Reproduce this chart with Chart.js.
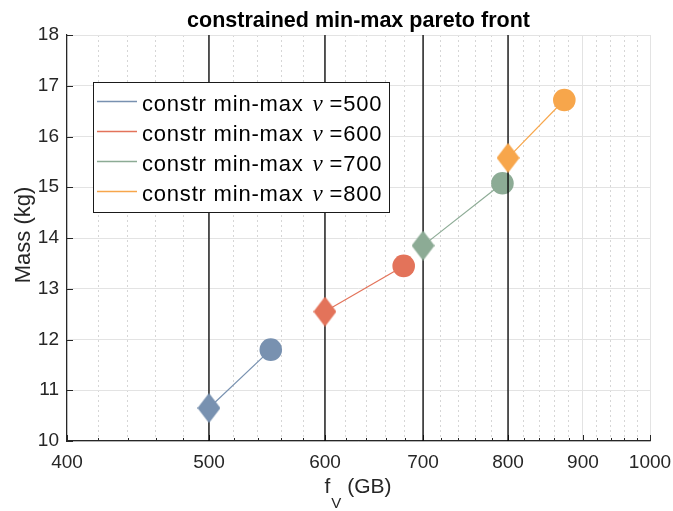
<!DOCTYPE html>
<html>
<head>
<meta charset="utf-8">
<title>constrained min-max pareto front</title>
<script src="https://cdn.jsdelivr.net/npm/chart.js@4/dist/chart.umd.min.js"></script>
<style>
  html, body { margin: 0; padding: 0; background: #ffffff; }
  #wrap { width: 673px; height: 511px; }
</style>
</head>
<body>
<div id="wrap"><canvas id="chart" width="673" height="511"></canvas></div>
<script>
// Constraint levels (nu) and the resulting pareto points for each run
const nuValues = [500, 600, 700, 800];
const seriesPrefix = 'constr min-max';
const seriesColors = ['#7891b0', '#e3735a', '#8cab95', '#f7a64b'];
// diamond marker: constrained optimum (on the nu line)
const diamondFV = [500, 600, 700, 800];
const diamondMass = [10.65, 12.55, 13.85, 15.58];
// circle marker: min-max optimum
const circleFV = [551, 679, 793, 874];
const circleMass = [11.80, 13.45, 15.08, 16.72];
// axes
const xMajorTicks = [400, 500, 600, 700, 800, 900, 1000];
const xMinorStep = 20;
const yRange = [10, 18];

const FONT = "'Liberation Sans', Arial, Helvetica, sans-serif";
const TEXT = '#262626';

function diamondImage(color, w, h) {
  const c = document.createElement('canvas');
  c.width = w; c.height = h;
  const g = c.getContext('2d');
  g.fillStyle = color;
  g.beginPath();
  g.moveTo(w / 2, 0);
  g.lineTo(w, h / 2);
  g.lineTo(w / 2, h);
  g.lineTo(0, h / 2);
  g.closePath();
  g.fill();
  return c;
}

// drawing order: nu line k, then series k, so each series sits over its own line
const datasets = [];
nuValues.forEach((nu, k) => {
  datasets.push({
    label: 'nu ' + nu,
    data: [{ x: nu, y: yRange[0] }, { x: nu, y: yRange[1] }],
    borderColor: '#000000',
    borderWidth: 1.3,
    pointRadius: 0,
    order: 100 - 2 * k
  });
  datasets.push({
    label: seriesPrefix + ' \u03bd =' + nu,
    data: [{ x: diamondFV[k], y: diamondMass[k] }, { x: circleFV[k], y: circleMass[k] }],
    borderColor: seriesColors[k],
    backgroundColor: seriesColors[k],
    borderWidth: 1.2,
    pointStyle: [diamondImage(seriesColors[k], 23, 30), 'circle'],
    pointRadius: [12, 11.3],
    pointBorderWidth: 0,
    order: 99 - 2 * k
  });
});

const isMajorX = v => xMajorTicks.includes(v);

function setSpacing(ctx, s) {
  if ('letterSpacing' in ctx) ctx.letterSpacing = s;
}

const overlay = {
  id: 'overlay',
  beforeDatasetsDraw(chart) {
    const { ctx, chartArea: a, scales: { x, y } } = chart;
    ctx.save();
    ctx.strokeStyle = TEXT;
    ctx.lineWidth = 1;
    // inward tick marks
    x.ticks.forEach(t => {
      const px = Math.round(x.getPixelForValue(t.value)) + 0.5;
      const len = isMajorX(t.value) ? 6 : 3;
      ctx.beginPath();
      ctx.moveTo(px, a.bottom);
      ctx.lineTo(px, a.bottom - len);
      ctx.stroke();
    });
    y.ticks.forEach(t => {
      const py = Math.round(y.getPixelForValue(t.value)) + 0.5;
      ctx.beginPath();
      ctx.moveTo(a.left, py);
      ctx.lineTo(a.left + 6, py);
      ctx.stroke();
    });
    ctx.restore();
  },
  afterDraw(chart) {
    const { ctx, chartArea: a } = chart;
    ctx.save();
    const cx = (a.left + a.right) / 2;

    // title
    ctx.fillStyle = '#000000';
    ctx.font = 'bold 21.5px ' + FONT;
    ctx.textAlign = 'center';
    ctx.textBaseline = 'alphabetic';
    ctx.fillText('constrained min-max pareto front', cx, 27);

    // x-axis title with subscript
    ctx.fillStyle = TEXT;
    ctx.textAlign = 'left';
    const mainF = '21px ' + FONT, subF = '15px ' + FONT;
    ctx.font = mainF; const wf = ctx.measureText('f').width;
    ctx.font = subF; const wv = ctx.measureText('V').width;
    ctx.font = mainF; const wr = ctx.measureText(' (GB)').width;
    let xs = cx - (wf + wv + wr) / 2 - 1;
    const base = 493;
    ctx.font = mainF; ctx.fillText('f', xs, base); xs += wf + 1;
    ctx.font = subF; ctx.fillText('V', xs, base + 15); xs += wv;
    ctx.font = mainF; ctx.fillText(' (GB)', xs, base);

    // y-axis title
    ctx.save();
    ctx.translate(24, (a.top + a.bottom) / 2 - 3);
    ctx.rotate(-Math.PI / 2);
    ctx.textAlign = 'center';
    ctx.textBaseline = 'middle';
    ctx.font = '22px ' + FONT;
    ctx.fillText('Mass (kg)', 0, 0);
    ctx.restore();

    // legend
    const bx = 93.5, by = 82.5, bw = 296, bh = 130;
    ctx.fillStyle = '#ffffff';
    ctx.fillRect(bx, by, bw, bh);
    ctx.strokeStyle = '#1a1a1a';
    ctx.lineWidth = 1;
    ctx.strokeRect(bx, by, bw, bh);
    const rows = [104, 134, 164, 194];
    nuValues.forEach((nu, k) => {
      const ry = rows[k];
      ctx.strokeStyle = seriesColors[k];
      ctx.lineWidth = 1.3;
      ctx.beginPath();
      ctx.moveTo(97, ry - 2.5);
      ctx.lineTo(137, ry - 2.5);
      ctx.stroke();
      ctx.fillStyle = '#000000';
      ctx.textAlign = 'left';
      ctx.textBaseline = 'alphabetic';
      let tx = 142;
      const tb = ry + 7;
      ctx.font = '22px ' + FONT;
      setSpacing(ctx, '0.8px');
      const p1 = seriesPrefix + ' ';
      ctx.fillText(p1, tx, tb); tx += ctx.measureText(p1).width + 2;
      setSpacing(ctx, '0px');
      ctx.font = 'italic 23px "Liberation Serif", "Times New Roman", serif';
      ctx.fillText('\u03bd', tx, tb); tx += ctx.measureText('\u03bd').width;
      ctx.font = '22px ' + FONT;
      setSpacing(ctx, '0.8px');
      ctx.fillText(' =' + nu, tx, tb);
      setSpacing(ctx, '0px');
    });
    ctx.restore();
  }
};

new Chart(document.getElementById('chart'), {
  type: 'line',
  data: { datasets },
  options: {
    responsive: false,
    devicePixelRatio: 1,
    animation: false,
    events: [],
    layout: { padding: { top: 35, right: 23, left: 0, bottom: 0 } },
    plugins: { legend: { display: false }, title: { display: false }, tooltip: { enabled: false } },
    scales: {
      x: {
        type: 'logarithmic',
        min: 400,
        max: 1000,
        afterBuildTicks: scale => {
          const ticks = [];
          for (let v = xMajorTicks[0]; v <= xMajorTicks[xMajorTicks.length - 1]; v += xMinorStep) {
            ticks.push({ value: v, major: isMajorX(v) });
          }
          scale.ticks = ticks;
        },
        afterFit: scale => {
          scale.height = 70;
          scale.paddingLeft = 0;
          scale.paddingRight = 0;
        },
        ticks: {
          autoSkip: false,
          maxRotation: 0,
          minRotation: 0,
          padding: 10,
          color: TEXT,
          font: { family: FONT, size: 19 },
          callback: v => (isMajorX(v) ? String(v) : '')
        },
        grid: {
          drawTicks: false,
          lineWidth: 1,
          color: c => (c.tick && !isMajorX(c.tick.value) ? '#d6d6d6' : '#e3e3e3')
        },
        border: {
          color: TEXT,
          width: 1.2,
          dash: c => (c.tick && !isMajorX(c.tick.value) ? [2, 3] : [])
        }
      },
      y: {
        type: 'linear',
        min: yRange[0],
        max: yRange[1],
        afterFit: scale => {
          scale.width = 67;
          scale.paddingTop = 0;
          scale.paddingBottom = 0;
        },
        ticks: {
          stepSize: 1,
          padding: 8,
          color: TEXT,
          font: { family: FONT, size: 19 }
        },
        grid: { drawTicks: false, lineWidth: 1, color: '#e3e3e3' },
        border: { color: TEXT, width: 1.2 }
      }
    }
  },
  plugins: [overlay]
});
</script>
</body>
</html>
